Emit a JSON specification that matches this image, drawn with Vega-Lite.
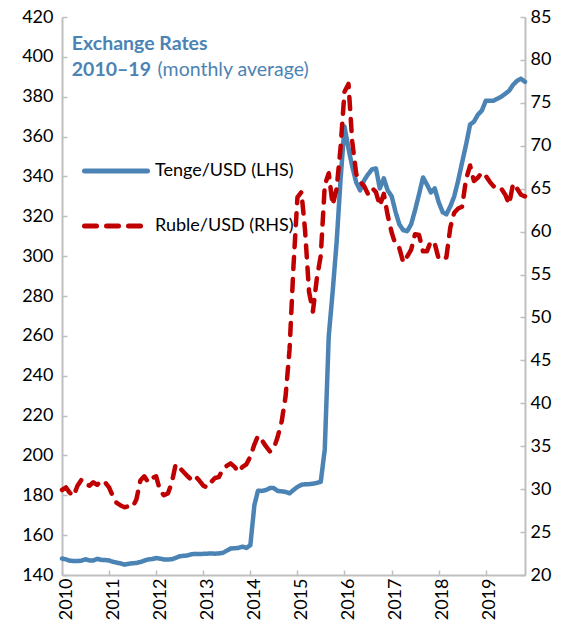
{
  "$schema": "https://vega.github.io/schema/vega-lite/v6.json",
  "autosize": {"type": "none"},
  "width": 463,
  "height": 558,
  "padding": {"left": 62, "top": 17, "right": 39, "bottom": 58},
  "background": "white",
  "config": {
    "view": {"stroke": null},
    "font": "Lato",
    "axis": {
      "grid": false,
      "domainColor": "#BFBFBF",
      "domainWidth": 2,
      "tickColor": "#BFBFBF",
      "tickWidth": 1.5,
      "tickSize": -5,
      "labelFont": "Lato",
      "labelFontSize": 18,
      "labelColor": "#000000",
      "title": null
    },
    "legend": {"rowPadding": 11}
  },
  "data": {
    "values": [
      {"d": "2010-01", "t": 148.3, "r": 29.9}, {"d": "2010-02", "t": 147.8, "r": 30.2}, {"d": "2010-03", "t": 147.2, "r": 29.6}, {"d": "2010-04", "t": 147.0, "r": 29.2}, {"d": "2010-05", "t": 147.0, "r": 30.4}, {"d": "2010-06", "t": 147.2, "r": 31.1}, {"d": "2010-07", "t": 147.9, "r": 30.6}, {"d": "2010-08", "t": 147.3, "r": 30.4}, {"d": "2010-09", "t": 147.3, "r": 30.8}, {"d": "2010-10", "t": 148.1, "r": 30.5}, {"d": "2010-11", "t": 147.6, "r": 31.0}, {"d": "2010-12", "t": 147.5, "r": 30.8},
      {"d": "2011-01", "t": 147.3, "r": 30.2}, {"d": "2011-02", "t": 146.6, "r": 29.1}, {"d": "2011-03", "t": 146.2, "r": 28.4}, {"d": "2011-04", "t": 145.8, "r": 28.1}, {"d": "2011-05", "t": 145.2, "r": 27.9}, {"d": "2011-06", "t": 145.6, "r": 28.0}, {"d": "2011-07", "t": 145.9, "r": 27.9}, {"d": "2011-08", "t": 146.0, "r": 28.8}, {"d": "2011-09", "t": 146.5, "r": 31.0}, {"d": "2011-10", "t": 147.2, "r": 31.5}, {"d": "2011-11", "t": 147.8, "r": 30.8}, {"d": "2011-12", "t": 148.0, "r": 31.3},
      {"d": "2012-01", "t": 148.5, "r": 31.5}, {"d": "2012-02", "t": 148.2, "r": 29.8}, {"d": "2012-03", "t": 147.8, "r": 29.3}, {"d": "2012-04", "t": 147.8, "r": 29.5}, {"d": "2012-05", "t": 147.9, "r": 30.7}, {"d": "2012-06", "t": 148.6, "r": 32.9}, {"d": "2012-07", "t": 149.4, "r": 32.5}, {"d": "2012-08", "t": 149.6, "r": 32.0}, {"d": "2012-09", "t": 149.8, "r": 31.5}, {"d": "2012-10", "t": 150.4, "r": 31.1}, {"d": "2012-11", "t": 150.6, "r": 31.5}, {"d": "2012-12", "t": 150.5, "r": 31.0},
      {"d": "2013-01", "t": 150.6, "r": 30.4}, {"d": "2013-02", "t": 150.7, "r": 30.2}, {"d": "2013-03", "t": 150.8, "r": 30.8}, {"d": "2013-04", "t": 150.7, "r": 31.3}, {"d": "2013-05", "t": 150.8, "r": 31.4}, {"d": "2013-06", "t": 151.1, "r": 32.3}, {"d": "2013-07", "t": 152.2, "r": 32.7}, {"d": "2013-08", "t": 153.3, "r": 33.0}, {"d": "2013-09", "t": 153.4, "r": 32.6}, {"d": "2013-10", "t": 153.6, "r": 32.0}, {"d": "2013-11", "t": 154.2, "r": 32.6}, {"d": "2013-12", "t": 153.6, "r": 32.9},
      {"d": "2014-01", "t": 155.0, "r": 33.8}, {"d": "2014-02", "t": 175.0, "r": 35.2}, {"d": "2014-03", "t": 182.3, "r": 36.2}, {"d": "2014-04", "t": 182.2, "r": 35.7}, {"d": "2014-05", "t": 182.6, "r": 35.0}, {"d": "2014-06", "t": 183.6, "r": 34.4}, {"d": "2014-07", "t": 183.6, "r": 34.7}, {"d": "2014-08", "t": 182.2, "r": 36.1}, {"d": "2014-09", "t": 182.0, "r": 37.9}, {"d": "2014-10", "t": 181.7, "r": 40.8}, {"d": "2014-11", "t": 181.0, "r": 46.3}, {"d": "2014-12", "t": 182.6, "r": 55.9},
      {"d": "2015-01", "t": 184.2, "r": 64.0}, {"d": "2015-02", "t": 185.3, "r": 64.6}, {"d": "2015-03", "t": 185.5, "r": 60.2}, {"d": "2015-04", "t": 185.6, "r": 53.0}, {"d": "2015-05", "t": 185.8, "r": 50.7}, {"d": "2015-06", "t": 186.2, "r": 54.6}, {"d": "2015-07", "t": 186.8, "r": 57.2}, {"d": "2015-08", "t": 203.0, "r": 65.4}, {"d": "2015-09", "t": 260.0, "r": 66.8}, {"d": "2015-10", "t": 282.0, "r": 63.1}, {"d": "2015-11", "t": 307.0, "r": 65.0}, {"d": "2015-12", "t": 338.0, "r": 69.7},
      {"d": "2016-01", "t": 365.0, "r": 76.3}, {"d": "2016-02", "t": 354.0, "r": 77.2}, {"d": "2016-03", "t": 345.0, "r": 70.5}, {"d": "2016-04", "t": 337.0, "r": 66.7}, {"d": "2016-05", "t": 333.0, "r": 65.8}, {"d": "2016-06", "t": 338.0, "r": 65.3}, {"d": "2016-07", "t": 341.0, "r": 64.4}, {"d": "2016-08", "t": 343.5, "r": 65.1}, {"d": "2016-09", "t": 344.0, "r": 64.6}, {"d": "2016-10", "t": 334.0, "r": 63.0}, {"d": "2016-11", "t": 339.0, "r": 64.4}, {"d": "2016-12", "t": 333.0, "r": 61.9},
      {"d": "2017-01", "t": 330.0, "r": 59.9}, {"d": "2017-02", "t": 322.0, "r": 58.4}, {"d": "2017-03", "t": 316.0, "r": 58.1}, {"d": "2017-04", "t": 313.0, "r": 56.4}, {"d": "2017-05", "t": 312.5, "r": 57.1}, {"d": "2017-06", "t": 316.0, "r": 57.9}, {"d": "2017-07", "t": 323.0, "r": 59.7}, {"d": "2017-08", "t": 331.0, "r": 59.6}, {"d": "2017-09", "t": 339.5, "r": 57.7}, {"d": "2017-10", "t": 336.0, "r": 57.7}, {"d": "2017-11", "t": 332.0, "r": 58.9}, {"d": "2017-12", "t": 334.0, "r": 58.6},
      {"d": "2018-01", "t": 327.0, "r": 56.8}, {"d": "2018-02", "t": 322.0, "r": 56.8}, {"d": "2018-03", "t": 321.0, "r": 57.0}, {"d": "2018-04", "t": 325.0, "r": 60.5}, {"d": "2018-05", "t": 330.0, "r": 62.2}, {"d": "2018-06", "t": 338.0, "r": 62.7}, {"d": "2018-07", "t": 347.0, "r": 62.9}, {"d": "2018-08", "t": 356.0, "r": 66.1}, {"d": "2018-09", "t": 366.0, "r": 67.7}, {"d": "2018-10", "t": 367.5, "r": 65.9}, {"d": "2018-11", "t": 371.0, "r": 66.3}, {"d": "2018-12", "t": 373.0, "r": 66.9},
      {"d": "2019-01", "t": 378.0, "r": 66.5}, {"d": "2019-02", "t": 378.0, "r": 65.8}, {"d": "2019-03", "t": 378.0, "r": 65.3}, {"d": "2019-04", "t": 379.0, "r": 64.9}, {"d": "2019-05", "t": 380.0, "r": 65.0}, {"d": "2019-06", "t": 381.5, "r": 64.3}, {"d": "2019-07", "t": 383.0, "r": 63.2}, {"d": "2019-08", "t": 386.0, "r": 65.6}, {"d": "2019-09", "t": 388.0, "r": 65.0}, {"d": "2019-10", "t": 389.0, "r": 64.3}, {"d": "2019-11", "t": 387.5, "r": 64.1}
    ],
    "format": {"parse": {"d": "utc:'%Y-%m'"}}
  },
  "encoding": {
    "x": {
      "field": "d",
      "type": "temporal",
      "scale": {"type": "utc", "domain": [1262304000000, 1572566400000]},
      "axis": {
        "format": "%Y",
        "tickCount": {"interval": "year", "step": 1},
        "labelAngle": 270,
        "labelAlign": "right",
        "labelBaseline": "middle",
        "labelOffset": 4,
        "labelPadding": 8,
        "labelFlush": false,
        "labelOverlap": false
      }
    }
  },
  "layer": [
    {
      "encoding": {
        "y": {
          "type": "quantitative",
          "scale": {"domain": [140, 420], "nice": false, "zero": false},
          "axis": {"orient": "left", "values": [140, 160, 180, 200, 220, 240, 260, 280, 300, 320, 340, 360, 380, 400, 420], "labelPadding": 14}
        }
      },
      "layer": [
        {
          "mark": {"type": "line", "strokeWidth": 4.5, "strokeCap": "round", "strokeJoin": "round"},
          "encoding": {
            "y": {"field": "t", "type": "quantitative"},
            "color": {
              "datum": "Tenge/USD (LHS)",
              "type": "nominal",
              "scale": {"domain": ["Tenge/USD (LHS)", "Ruble/USD (RHS)"], "range": ["#4C83B5", "#C00000"]},
              "legend": {
                "orient": "none",
                "legendX": 20,
                "legendY": 120,
                "title": null,
                "symbolType": "stroke",
                "symbolSize": 3969,
                "symbolStrokeWidth": 5,
                "labelFontSize": 18,
                "labelFont": "Lato",
                "labelColor": "#000000",
                "labelOffset": 5,
                "labelLimit": 300,
                "encode": {"symbols": {"update": {"strokeCap": {"value": "round"}}}}
              }
            },
            "strokeDash": {
              "datum": "Tenge/USD (LHS)",
              "type": "nominal",
              "scale": {"domain": ["Tenge/USD (LHS)", "Ruble/USD (RHS)"], "range": [[1, 0], [12, 10]]},
              "legend": {
                "orient": "none",
                "legendX": 20,
                "legendY": 120,
                "title": null,
                "symbolType": "stroke",
                "symbolSize": 3969,
                "symbolStrokeWidth": 5,
                "labelFontSize": 18,
                "labelFont": "Lato",
                "labelColor": "#000000",
                "labelOffset": 5,
                "labelLimit": 300,
                "encode": {"symbols": {"update": {"strokeCap": {"value": "round"}}}}
              }
            }
          }
        },
        {
          "data": {"values": [{"d": "2010-03-18", "v": 403.4, "s": "Exchange Rates"}]},
          "mark": {"type": "text", "align": "left", "baseline": "alphabetic", "fontSize": 19.5, "fontWeight": "bold", "font": "Lato", "color": "#4C83B5"},
          "encoding": {"x": {"field": "d", "type": "temporal"}, "y": {"field": "v", "type": "quantitative"}, "text": {"field": "s"}}
        },
        {
          "data": {"values": [{"d": "2010-03-18", "v": 390.4, "s": "2010–19"}]},
          "mark": {"type": "text", "align": "left", "baseline": "alphabetic", "fontSize": 19.5, "fontWeight": "bold", "font": "Lato", "color": "#4C83B5"},
          "encoding": {"x": {"field": "d", "type": "temporal"}, "y": {"field": "v", "type": "quantitative"}, "text": {"field": "s"}}
        },
        {
          "data": {"values": [{"d": "2012-01-12", "v": 390.4, "s": "(monthly average)"}]},
          "mark": {"type": "text", "align": "left", "baseline": "alphabetic", "fontSize": 19.5, "fontWeight": "normal", "font": "Lato", "color": "#4C83B5"},
          "encoding": {"x": {"field": "d", "type": "temporal"}, "y": {"field": "v", "type": "quantitative"}, "text": {"field": "s"}}
        }
      ]
    },
    {
      "mark": {"type": "line", "strokeWidth": 4.5, "strokeCap": "round", "strokeJoin": "round"},
      "encoding": {
        "y": {
          "field": "r",
          "type": "quantitative",
          "scale": {"domain": [20, 85], "nice": false, "zero": false},
          "axis": {"orient": "right", "values": [20, 25, 30, 35, 40, 45, 50, 55, 60, 65, 70, 75, 80, 85], "labelPadding": 10}
        },
        "color": {"datum": "Ruble/USD (RHS)", "type": "nominal"},
        "strokeDash": {"datum": "Ruble/USD (RHS)", "type": "nominal"}
      }
    }
  ],
  "resolve": {"scale": {"y": "independent"}}
}
